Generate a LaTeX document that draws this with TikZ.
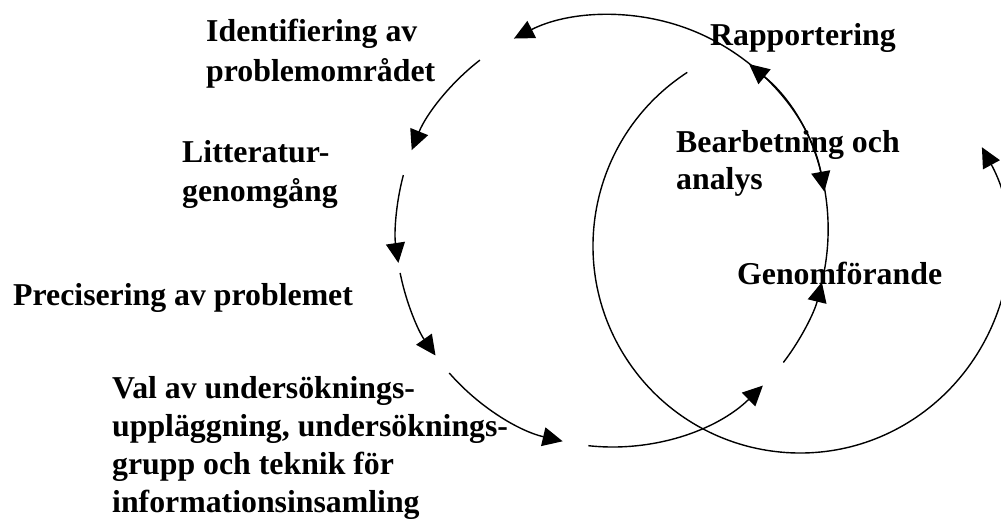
\documentclass[tikz,border=0pt]{standalone}
\usepackage{fontspec}
\setmainfont{Liberation Serif}
\usetikzlibrary{arrows.meta}
\begin{document}
\begin{tikzpicture}[x=1pt,y=1pt,
  lbl/.style={inner sep=0pt,anchor=base west,font=\fontsize{31.8}{36}\selectfont\bfseries},
  seg/.style={line width=1.4pt,-{Triangle[length=20pt,width=19pt]}},
  dseg/.style={line width=1.4pt,{Triangle[length=20pt,width=19pt]}-{Triangle[length=20pt,width=19pt]}}]
\clip (0,0) rectangle (1001,519);
\coordinate (L) at (612,288);
\coordinate (R) at (800,273);
% left cycle
\draw[seg] ([shift={(127.7:216)}]L) arc[start angle=127.7,end angle=158,radius=216];
\draw[seg] ([shift={(165:216)}]L) arc[start angle=165,end angle=188.5,radius=216];
\draw[seg] ([shift={(191.2:216)}]L) arc[start angle=191.2,end angle=215.2,radius=216];
\draw[seg] ([shift={(221.1:216)}]L) arc[start angle=221.1,end angle=256.8,radius=216];
\draw[seg] ([shift={(263.7:216)}]L) arc[start angle=263.7,end angle=314.3,radius=216];
\draw[seg] ([shift={(322.5:216)}]L) arc[start angle=322.5,end angle=346.3,radius=216];
\draw[seg] ([shift={(346.3:216)}]L) arc[start angle=346.3,end angle=410.6,radius=216];
\draw[dseg] ([shift={(370.5:216)}]L) arc[start angle=370.5,end angle=477,radius=216];
% right cycle
\draw[seg] ([shift={(123:207)}]R) arc[start angle=123,end angle=388.5,radius=207];
% labels
\node[lbl] (id1) at (206,477) {Identifiering av};
\node[lbl] (id2) at (206,437) {problemområdet};
\node[lbl] (lit1) at (182,356) {Litteratur-};
\node[lbl] (lit2) at (182,317) {genomgång};
\node[lbl] (pre) at (13,213) {Precisering av problemet};
\node[lbl] (val1) at (112,120) {Val av undersöknings-};
\node[lbl] (val2) at (112,82) {uppläggning, undersöknings-};
\node[lbl] (val3) at (112,44) {grupp och teknik för};
\node[lbl] (val4) at (112,6) {informationsinsamling};
\node[lbl] (rap) at (710,473) {Rapportering};
\node[lbl] (bea1) at (676,366) {Bearbetning och};
\node[lbl] (bea2) at (676,329) {analys};
\node[lbl] (gen) at (737,234) {Genomförande};
\end{tikzpicture}
\end{document}
